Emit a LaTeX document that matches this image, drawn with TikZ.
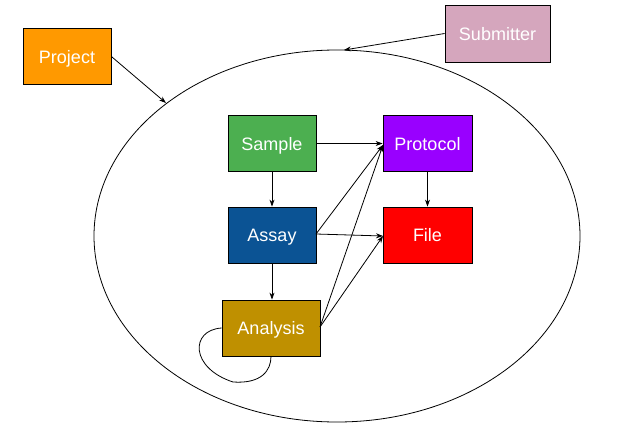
\documentclass[tikz,border=0pt]{standalone}
\usepackage{fontspec}
\setmainfont{Liberation Sans}
\usetikzlibrary{arrows.meta,shapes.geometric}
\definecolor{cproject}{HTML}{FF9900}
\definecolor{csubmit}{HTML}{D5A6BD}
\definecolor{csample}{HTML}{4CAF50}
\definecolor{cprotocol}{HTML}{9900FF}
\definecolor{cassay}{HTML}{0B5394}
\definecolor{cfile}{HTML}{FF0000}
\definecolor{canalysis}{HTML}{BF9000}
\tikzset{
  ent/.style={draw=black, line width=0.8pt, minimum width=88pt, minimum height=56pt, inner sep=0pt,
    font=\fontsize{18}{20}\selectfont, text=white, text height=13pt, text depth=0pt},
  conn/.style={line width=0.8pt, -{Stealth[length=7pt,width=5pt]}},
}
\begin{document}
\begin{tikzpicture}[x=1pt,y=-1pt]
\useasboundingbox[fill=white] (0,0) rectangle (622,434);
\node[ent, fill=cproject] (project) at (67,56.5) {Project};
\node[ent, fill=csubmit, minimum width=105pt, minimum height=57pt] (submitter) at (497.5,33.5) {Submitter};
\node[draw, line width=0.8pt, ellipse, minimum width=486pt, minimum height=372pt, inner sep=0pt] (scope) at (337,236) {};
\node[ent, fill=csample] (sample) at (272,143.5) {Sample};
\node[ent, fill=cprotocol, minimum width=89pt] (protocol) at (427.5,143.5) {Protocol};
\node[ent, fill=cassay] (assay) at (272,235) {Assay};
\node[ent, fill=cfile, minimum width=89pt] (file) at (427.5,235) {File};
\node[ent, fill=canalysis, minimum width=98pt] (analysis) at (271,328) {Analysis};
\coordinate (projin) at (166,103);
\coordinate (subin) at (344,50);
\coordinate (protin) at (383,145);
\coordinate (filein) at (383,236);
\coordinate (assayout) at (316,234);
\coordinate (anout) at (320,327);
\draw[conn] (project.east) -- (projin);
\draw[conn] (submitter.west) -- (subin);
\draw[conn] (sample.east) -- (protocol.west);
\draw[conn] (sample.south) -- (assay.north);
\draw[conn] (assay.south) -- (assay.south |- analysis.north);
\draw[conn] (protocol.south) -- (file.north);
\draw[conn] (assayout) -- (filein);
\draw[conn] (assayout) -- (protin);
\draw[conn] (anout) -- (protin);
\draw[conn] (anout) -- (filein);
\draw[line width=0.8pt] (analysis.west) .. controls (190,330) and (190,368) .. (233,382)
  .. controls (262,384) and (271,370) .. (analysis.south);
\end{tikzpicture}
\end{document}
